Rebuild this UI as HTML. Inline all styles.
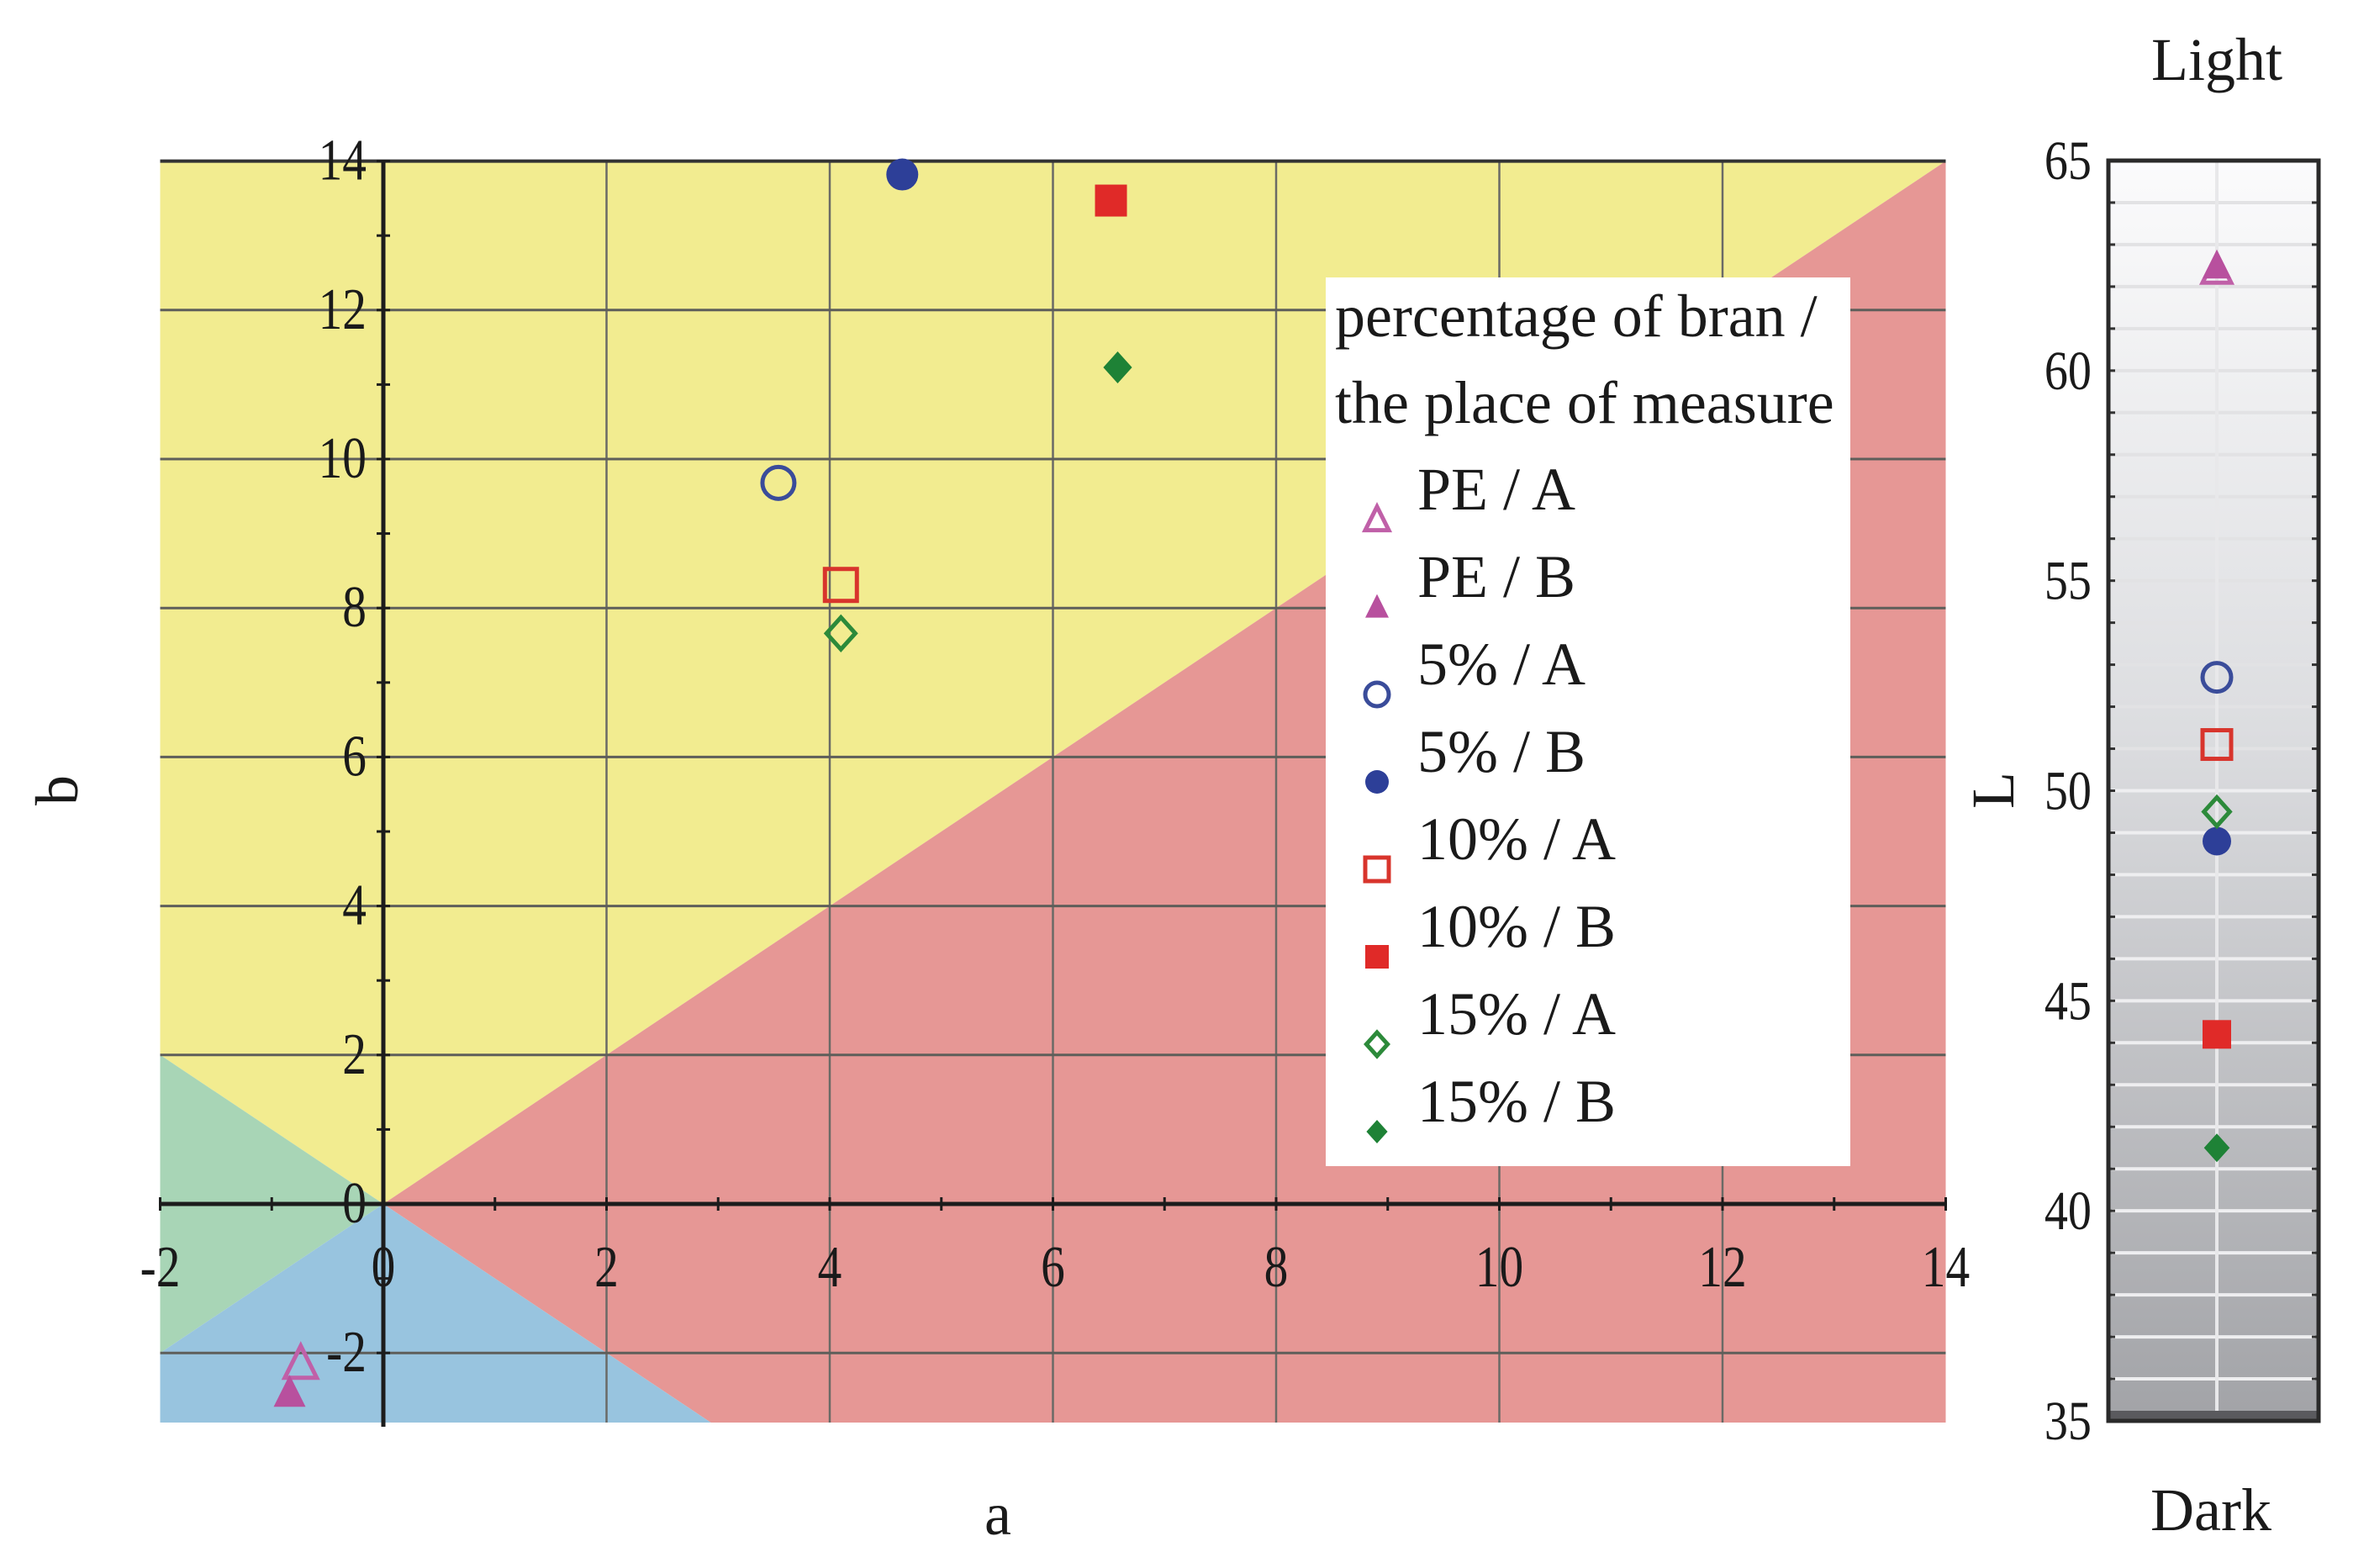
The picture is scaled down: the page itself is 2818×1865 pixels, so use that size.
<!DOCTYPE html>
<html><head><meta charset="utf-8"><style>
html,body{margin:0;padding:0;background:#fff}
svg{display:block}
text{font-family:"Liberation Serif",serif;fill:#1a1a1a}
</style></head><body>
<svg id="chart" width="2818" height="1865" viewBox="0 0 2818 1865" xmlns="http://www.w3.org/2000/svg">
<defs>
<linearGradient id="lg" x1="0" y1="0" x2="0" y2="1">
<stop offset="0" stop-color="#fbfbfc"/><stop offset="0.45" stop-color="#dcdde0"/><stop offset="1" stop-color="#a2a3a7"/>
</linearGradient>
</defs>
<g id="main"></g>
<g id="lpanel"></g>
<g id="legend"></g>
</svg>
<script>
const seriesNames = ["PE / A","PE / B","5% / A","5% / B","10% / A","10% / B","15% / A","15% / B"];
const aValues = [-0.74,-0.84,3.54,4.65,4.10,6.52,4.10,6.58];
const bValues = [-2.14,-2.53,9.68,13.82,8.31,13.47,7.66,11.23];
const lValues = [62.4,62.5,52.7,48.8,51.1,44.2,49.5,41.5];
const aTicks = [-2,0,2,4,6,8,10,12,14];
const bTicks = [-2,0,2,4,6,8,10,12,14];
const lTicks = [35,40,45,50,55,60,65];

const markerShape = ["tri","tri","circle","circle","square","square","diamond","diamond"];
const markerFill = [false,true,false,true,false,true,false,true];
const markerColor = ["#c060a8","#b8509e","#3a4c9a","#2d3f98","#d8342c","#e02a28","#2c8a3a","#1e8236"];

const NS="http://www.w3.org/2000/svg";
function el(tag,attrs,parent){const e=document.createElementNS(NS,tag);for(const k in attrs)e.setAttribute(k,attrs[k]);parent.appendChild(e);return e;}

const X0=456, XU=132.75, Y0=1432, YU=88.6;
const xS=a=>X0+a*XU, yS=b=>Y0-b*YU;
const pL=xS(-2), pR=xS(14), pT=yS(14), pB=1692;
const bMin=(Y0-pB)/YU;
const mainG=document.getElementById('main');

function poly(pts,fill,name){const p=el('polygon',{points:pts.map(q=>xS(q[0])+','+yS(q[1])).join(' '),fill:fill},mainG);

}
poly([[0,0],[-2,2],[-2,14],[14,14]],"#f2ec90","yellow-region");
poly([[0,0],[14,14],[14,bMin],[-bMin,bMin]],"#e69795","red-region");
poly([[0,0],[-2,2],[-2,-2]],"#a8d5b6","green-region");
poly([[0,0],[-2,-2],[-2,bMin],[-bMin,bMin]],"#98c4df","blue-region");

for(const t of aTicks){ if(t===-2||t===0||t===14) continue;
  const l=el('line',{x1:xS(t),x2:xS(t),y1:pT,y2:pB,stroke:"#6a6a66","stroke-width":2.5},mainG);
  
  }
for(const t of bTicks){ if(t===0) continue;
  const l=el('line',{x1:pL,x2:pR,y1:yS(t),y2:yS(t),stroke:t===14?"#333":"#5e5e5a","stroke-width":t===14?4:3},mainG);
  
  }
let ax=el('line',{x1:pL,x2:pR,y1:Y0,y2:Y0,stroke:"#1c1c1c","stroke-width":5},mainG);


ax=el('line',{x1:X0,x2:X0,y1:pT,y2:pB+5,stroke:"#1c1c1c","stroke-width":5},mainG);


for(let v=-2;v<=14;v++){el('line',{x1:xS(v),x2:xS(v),y1:Y0-8,y2:Y0+8,stroke:"#1c1c1c","stroke-width":3},mainG);
  el('line',{x1:X0-8,x2:X0+8,y1:yS(v),y2:yS(v),stroke:"#1c1c1c","stroke-width":3},mainG);}
for(const t of aTicks){const tx=el('text',{x:xS(t),y:1530,"font-size":70,"text-anchor":"middle",transform:`translate(${xS(t)},0) scale(0.82,1) translate(${-xS(t)},0)`},mainG);tx.textContent=t;
  
  }
for(const t of bTicks){const tx=el('text',{x:436,y:yS(t)+22,"font-size":70,"text-anchor":"end",transform:`translate(436,0) scale(0.82,1) translate(-436,0)`},mainG);tx.textContent=t;
  
  }
let tt=el('text',{x:1187,y:1825,"font-size":72,"text-anchor":"middle"},mainG);tt.textContent="a";


tt=el('text',{x:0,y:0,"font-size":72,"text-anchor":"middle",transform:"translate(92,940) rotate(-90)"},mainG);tt.textContent="b";



function marker(parent,i,cx,cy,s){
  const c=markerColor[i], f=markerFill[i]?c:"none", sw=markerFill[i]?0:5;
  let m;
  if(markerShape[i]==="circle") m=el('circle',{cx:cx,cy:cy,r:s*0.5,fill:f,stroke:c,"stroke-width":sw},parent);
  else if(markerShape[i]==="square") m=el('rect',{x:cx-s*0.5,y:cy-s*0.5,width:s,height:s,fill:f,stroke:c,"stroke-width":sw},parent);
  else if(markerShape[i]==="diamond") m=el('polygon',{points:`${cx},${cy-s*0.5} ${cx+s*0.45},${cy} ${cx},${cy+s*0.5} ${cx-s*0.45},${cy}`,fill:f,stroke:c,"stroke-width":sw},parent);
  else m=el('polygon',{points:`${cx},${cy-s*0.55} ${cx+s*0.5},${cy+s*0.45} ${cx-s*0.5},${cy+s*0.45}`,fill:f,stroke:c,"stroke-width":sw},parent);
  return m;
}
for(let i=0;i<aValues.length;i++){
  const m=marker(mainG,i,xS(aValues[i]),yS(bValues[i]),38);
  
  
}

const lp=document.getElementById('lpanel');
const LX1=2508, LX2=2758, LT=191, LB=1690;
const lS=v=>LT+(65-v)*(LB-LT)/30;
let rr=el('rect',{x:LX1,y:LT,width:LX2-LX1,height:LB-LT,fill:"url(#lg)"},lp);


for(let v=36;v<65;v++){
  const l=el('line',{x1:LX1+4,x2:LX2-4,y1:lS(v),y2:lS(v),stroke:v>50?"#e2e2e4":"#eeeef0","stroke-width":4},lp);
  
  
  el('line',{x1:LX1,x2:LX1+8,y1:lS(v),y2:lS(v),stroke:"#333","stroke-width":3},lp);
  el('line',{x1:LX2-8,x2:LX2,y1:lS(v),y2:lS(v),stroke:"#333","stroke-width":3},lp);
}
const PX=2637;
el('line',{x1:PX,x2:PX,y1:LT,y2:LB,stroke:"#e8e8ea","stroke-width":4},lp);
el('rect',{x:LX1,y:LB-12,width:LX2-LX1,height:12,fill:"#5a5a5e"},lp);
el('rect',{x:LX1,y:LT,width:LX2-LX1,height:LB-LT,fill:"none",stroke:"#2a2a2a","stroke-width":5},lp);
for(const v of lTicks){const tx=el('text',{x:2488,y:lS(v)+22,"font-size":66,"text-anchor":"end",transform:"translate(2488,0) scale(0.85,1) translate(-2488,0)"},lp);tx.textContent=v;
  
  }
tt=el('text',{x:2637,y:95,"font-size":72,"text-anchor":"middle"},lp);tt.textContent="Light";


tt=el('text',{x:2630,y:1820,"font-size":72,"text-anchor":"middle"},lp);tt.textContent="Dark";


tt=el('text',{x:0,y:0,"font-size":72,"text-anchor":"middle",transform:"translate(2395,940) rotate(-90)"},lp);tt.textContent="L";


for(let i=0;i<lValues.length;i++){
  const m=marker(lp,i,PX,lS(lValues[i]),34);
  
  
}

const lg=document.getElementById('legend');
rr=el('rect',{x:1577,y:330,width:624,height:1057,fill:"#fff"},lg);


tt=el('text',{x:1588,y:400,"font-size":72},lg);tt.textContent="percentage of bran /";


tt=el('text',{x:1588,y:503,"font-size":72},lg);tt.textContent="the place of measure";


for(let i=0;i<seriesNames.length;i++){
  const y=606+i*104;
  const g=el('g',{},lg);
  
  
  marker(g,i,1638,y+12,28);
  const tx=el('text',{x:1686,y:y,"font-size":72},g);tx.textContent=seriesNames[i];
}
</script>
</body></html>
